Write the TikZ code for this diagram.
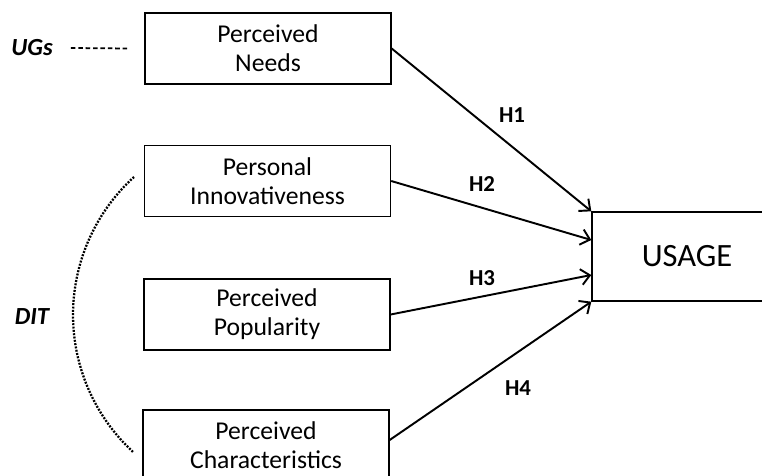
\documentclass[tikz,border=0pt]{standalone}
\usepackage{fontspec}
\setmainfont{Carlito}
\usetikzlibrary{arrows.meta}

\begin{document}
\begin{tikzpicture}[x=0.02cm, y=-0.02cm]
    \tikzstyle{every node}=[font={\fontsize{14.6}{16.5}\selectfont}]
    \tikzstyle{construct}=[draw, line width=0.8pt, minimum width=4.92cm, minimum height=1.42cm, align=center, inner sep=0pt]
    \tikzstyle{hyp}=[font={\fontsize{13}{15}\selectfont\bfseries}]
    \tikzstyle{theory}=[font={\fontsize{14}{16}\selectfont\bfseries\itshape}]
    \tikzstyle{effect}=[line width=1.1pt, -{Straight Barb[length=5pt,width=9pt]}]
    \useasboundingbox (0,0) rectangle (762,476);

    \node[construct] (needs) at (268,48.5) {Perceived\\Needs};
    \node[construct] (innov) at (267.5,181) {Personal\\Innovativeness};
    \node[construct] (popul) at (267,314.5) {Perceived\\Popularity};
    \node[construct] (charac) at (266,445.5) {Perceived\\Characteristics};
    \node[draw, line width=0.8pt, minimum width=3.8cm, minimum height=1.78cm,
        font={\fontsize{18.5}{20}\selectfont}] (usage) at (687,256.5) {USAGE};

    \node[theory] (ugs) at (32,48) {UGs};
    \node[theory] (dit) at (32,317) {DIT};
    \draw[line width=1pt, dash pattern=on 2.6pt off 1.6pt]
        ([xshift=0.24cm]ugs.east) -- ([xshift=-0.3cm]needs.west);
    \draw[line width=1.3pt, dash pattern=on 1.1pt off 0.8pt]
        (134,177) arc (132.3:227.7:3.73cm);

    \draw[effect] (needs.east) -- (usage.north west);
    \draw[effect] (innov.east) -- ([yshift=0.33cm]usage.west);
    \draw[effect] (popul.east) -- ([yshift=-0.37cm]usage.west);
    \draw[effect] ([yshift=0.11cm]charac.east) -- (usage.south west);

    \node[hyp] (h1) at (512,115) {H1};
    \node[hyp] (h2) at (482,184) {H2};
    \node[hyp] (h3) at (482,278) {H3};
    \node[hyp] (h4) at (518,388) {H4};
\end{tikzpicture}
\end{document}
